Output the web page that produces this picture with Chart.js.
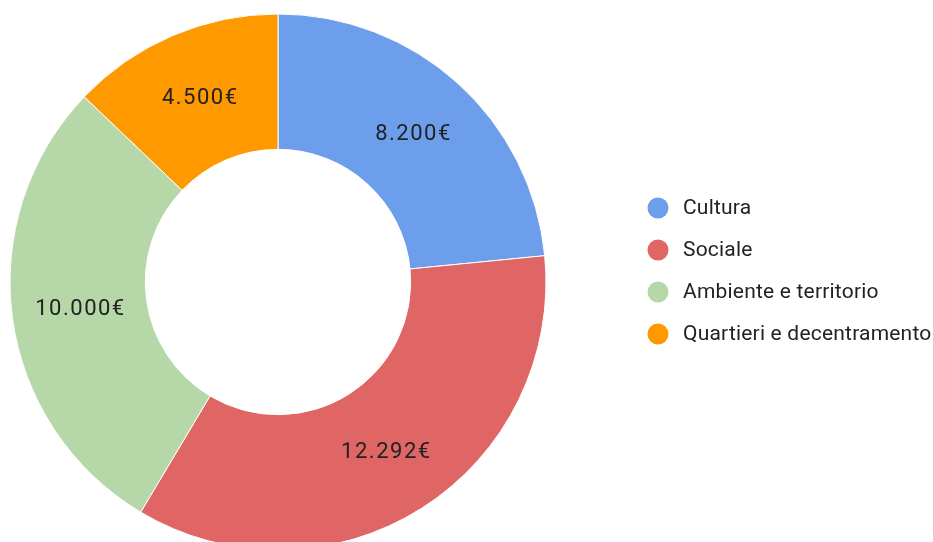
<!DOCTYPE html>
<html>
<head>
<meta charset="utf-8">
<script src="https://cdn.jsdelivr.net/npm/chart.js@4/dist/chart.umd.min.js"></script>
<style>
  html,body{margin:0;padding:0;background:#fff;}
  #wrap{width:933px;height:542px;overflow:hidden;position:relative;}
</style>
</head>
<body>
<div id="wrap"><canvas id="myDonut" width="933" height="564"></canvas></div>
<script>
var categories = ["Cultura", "Sociale", "Ambiente e territorio", "Quartieri e decentramento"];
var amounts = [8200, 12292, 10000, 4500];
var sliceColors = ["#6d9eeb", "#e06666", "#b6d7a8", "#ff9900"];

function euro(v){
    return String(v).replace(/\B(?=(\d{3})+(?!\d))/g, ".") + "€";
}

// values written in the middle of each ring slice
var sliceLabels = {
    id: "sliceLabels",
    afterDatasetsDraw: function(chart){
        var ctx = chart.ctx;
        var meta = chart.getDatasetMeta(0);
        ctx.save();
        ctx.font = "22px Roboto, Arial, sans-serif";
        ctx.letterSpacing = "1.5px";
        ctx.fillStyle = "#222222";
        ctx.textAlign = "center";
        ctx.textBaseline = "middle";
        for(var i = 0; i < meta.data.length; i++){
            var p = meta.data[i].tooltipPosition();
            ctx.fillText(euro(chart.data.datasets[0].data[i]), p.x + 1, p.y + 1);
        }
        ctx.restore();
    }
};

// legend on the right, dots + names
var sideLegend = {
    id: "sideLegend",
    afterDraw: function(chart){
        var ctx = chart.ctx;
        var labels = chart.data.labels;
        var colors = chart.data.datasets[0].backgroundColor;
        var top = 208, step = 42;
        ctx.save();
        ctx.font = "21px Roboto, Arial, sans-serif";
        ctx.letterSpacing = "0.2px";
        ctx.textBaseline = "middle";
        ctx.textAlign = "left";
        for(var i = 0; i < labels.length; i++){
            var y = top + i * step;
            ctx.beginPath();
            ctx.arc(658, y, 10.5, 0, Math.PI * 2);
            ctx.fillStyle = colors[i];
            ctx.fill();
            ctx.fillStyle = "#222222";
            ctx.fillText(labels[i], 683, y + 1);
        }
        ctx.restore();
    }
};

var ctx = document.getElementById("myDonut");
var myDonut = new Chart(ctx, {
    type: "doughnut",
    data: {
        labels: categories,
        datasets: [{
            data: amounts,
            backgroundColor: sliceColors,
            borderColor: "#ffffff",
            borderWidth: 1,
            radius: 268,
            cutout: "49.5%"
        }]
    },
    options: {
        responsive: false,
        animation: false,
        layout: { padding: { left: 0, right: 377, top: 0, bottom: 0 } },
        plugins: {
            legend: { display: false },
            tooltip: { enabled: false }
        }
    },
    plugins: [sliceLabels, sideLegend]
});
</script>
</body>
</html>
